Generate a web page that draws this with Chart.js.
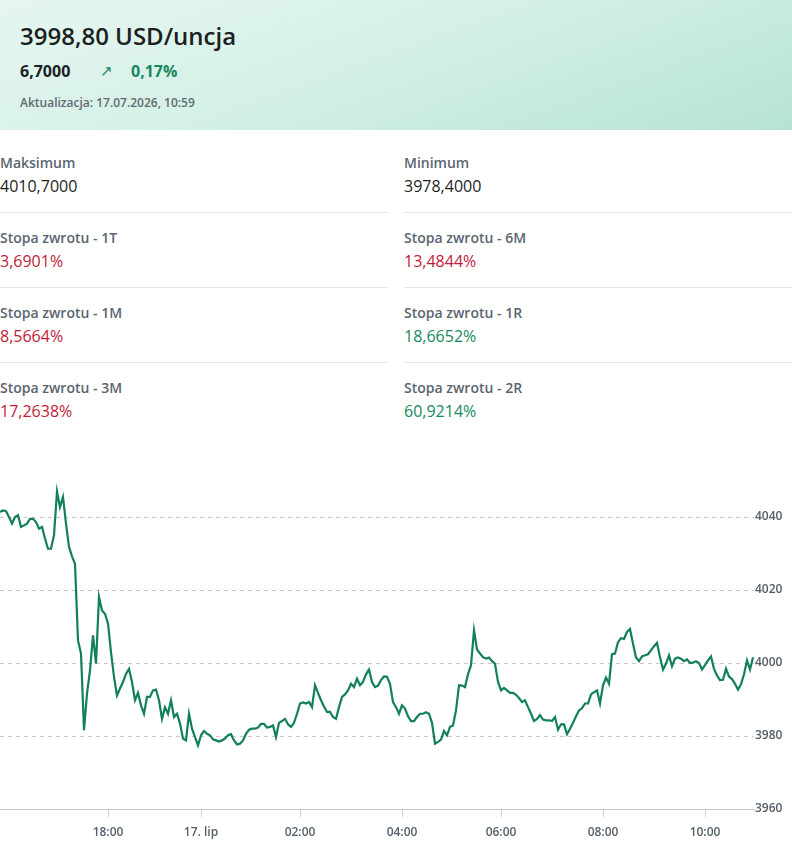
<!DOCTYPE html>
<html lang="pl">
<head>
<meta charset="utf-8">
<title>Złoto USD/uncja</title>
<script src="https://cdn.jsdelivr.net/npm/chart.js@4.4.1/dist/chart.umd.min.js"></script>
<style>
  html, body { margin: 0; padding: 0; background: #fff; }
  body { width: 792px; height: 865px; position: relative; overflow: hidden; font-family: 'Open Sans', sans-serif; }
  .head { position: absolute; left: 0; top: 0; width: 792px; height: 130px;
          background: linear-gradient(160deg, #e6f6f1 0%, #d3f0e5 50%, #b6e3d1 100%); }
  .abs { position: absolute; line-height: 1; white-space: nowrap; }
  .title { left: 20px; top: 24px; font-size: 24px; font-weight: 600; color: #1b1f22; }
  .chg { left: 20px; top: 63px; font-size: 16px; font-weight: 700; color: #1b1f22; }
  .arrow { left: 100px; top: 63px; font-size: 15px; color: #168a5c; }
  .pct { left: 131px; top: 63px; font-size: 16px; font-weight: 700; color: #168a5c; }
  .upd { left: 20px; top: 96.5px; font-size: 12px; font-weight: 600; color: #5f6a72; }
  .lbl { font-size: 14px; font-weight: 600; color: #5a6570; }
  .val { font-size: 16px; font-weight: 500; color: #1b1f22; }
  .red { color: #c21b3a; }
  .green { color: #168a5c; }
  .sep { position: absolute; height: 1px; background: #e4e6e8; }
  .chartbox { position: absolute; left: 0; top: 470px; width: 792px; height: 395px; }
</style>
</head>
<body>
<div class="head">
  <div class="abs title">3998,80 USD/uncja</div>
  <div class="abs chg">6,7000</div>
  <div class="abs arrow">↗</div>
  <div class="abs pct">0,17%</div>
  <div class="abs upd">Aktualizacja: 17.07.2026, 10:59</div>
</div>
<div id="stats"></div>
<div class="chartbox"><canvas id="goldChart"></canvas></div>
<script>
// statystyki
const statLabels = ['Maksimum', 'Minimum', 'Stopa zwrotu - 1T', 'Stopa zwrotu - 6M',
                    'Stopa zwrotu - 1M', 'Stopa zwrotu - 1R', 'Stopa zwrotu - 3M', 'Stopa zwrotu - 2R'];
const statValues = ['4010,7000', '3978,4000', '3,6901%', '13,4844%',
                    '8,5664%', '18,6652%', '17,2638%', '60,9214%'];
const statColors = ['', '', 'red', 'red', 'red', 'green', 'red', 'green'];

// notowania (co ok. 5 min)
const prices = [
  4041.4, 4041.8, 4041.6, 4040.0, 4038.2, 4040.0, 4040.5, 4037.3, 4037.7, 4038.2,
  4039.5, 4039.5, 4038.6, 4036.8, 4037.3, 4034.1, 4031.3, 4031.3, 4035.0, 4047.0,
  4042.7, 4045.5, 4038.2, 4031.8, 4029.2, 4027.2, 4006.2, 4002.6, 3981.6, 3991.6,
  3998.0, 4007.6, 3999.8, 4018.1, 4014.4, 4013.5, 4010.8, 4003.0, 3996.2, 3991.1,
  3993.0, 3994.8, 3997.0, 3998.4, 3994.8, 3989.8, 3991.8, 3988.4, 3986.1, 3990.7,
  3990.7, 3992.5, 3992.7, 3989.8, 3984.7, 3987.9, 3986.1, 3989.8, 3985.2, 3986.1,
  3983.4, 3979.3, 3978.8, 3986.1, 3982.0, 3979.7, 3977.4, 3980.2, 3981.4, 3980.6,
  3980.2, 3979.1, 3978.8, 3978.5, 3978.8, 3979.3, 3980.2, 3980.5, 3978.8, 3977.7,
  3977.9, 3978.8, 3980.6, 3981.7, 3982.0, 3982.0, 3982.3, 3983.3, 3983.3, 3982.3,
  3982.5, 3982.9, 3979.7, 3983.6, 3984.1, 3984.7, 3983.2, 3982.5, 3983.6, 3986.1,
  3988.9, 3989.2, 3988.9, 3989.3, 3987.9, 3993.9, 3991.8, 3989.8, 3988.1, 3986.6,
  3986.6, 3985.2, 3984.7, 3987.9, 3990.7, 3991.4, 3992.5, 3994.3, 3993.4, 3995.7,
  3993.9, 3994.8, 3996.9, 3998.2, 3994.8, 3993.4, 3993.8, 3995.3, 3996.3, 3996.2,
  3994.3, 3989.3, 3987.9, 3986.1, 3988.4, 3987.5, 3985.4, 3984.1, 3984.1, 3985.2,
  3986.1, 3986.1, 3986.5, 3986.1, 3983.6, 3977.9, 3978.4, 3979.0, 3981.4, 3980.2,
  3982.5, 3982.9, 3987.0, 3993.9, 3993.8, 3993.4, 3996.9, 3999.4, 4009.0, 4003.7,
  4002.6, 4001.6, 4001.2, 4001.5, 4000.5, 3999.8, 3994.8, 3992.5, 3993.2, 3992.5,
  3991.8, 3991.8, 3991.3, 3990.4, 3989.3, 3989.8, 3987.9, 3986.1, 3984.1, 3984.7,
  3985.7, 3984.5, 3984.3, 3984.3, 3984.1, 3985.2, 3981.7, 3983.2, 3983.2, 3980.5,
  3982.0, 3983.6, 3985.4, 3987.0, 3987.6, 3988.9, 3988.9, 3991.4, 3992.0, 3992.5,
  3988.9, 3993.9, 3996.0, 3994.3, 4002.4, 4002.6, 4005.7, 4006.8, 4006.6, 4008.5,
  4009.3, 4005.3, 4001.5, 4000.5, 4001.8, 4002.1, 4002.4, 4003.5, 4004.6, 4005.5,
  4001.6, 3998.2, 3999.8, 4002.1, 3999.1, 4001.2, 4001.5, 4001.2, 4000.5, 4001.0,
  4000.0, 4000.1, 4000.5, 4000.0, 3998.2, 3999.4, 4000.7, 4001.8, 3998.4, 3996.6,
  3995.3, 3995.4, 3998.4, 3996.3, 3995.6, 3994.3, 3992.7, 3994.2, 3996.9, 4000.7,
  3998.2, 4001.6
];

// indeks notowania, przy którym pada etykieta czasu
const tickIndex = [36, 67, 100, 134, 167, 201, 235];
const tickLabels = ['18:00', '17. lip', '02:00', '04:00', '06:00', '08:00', '10:00'];
const yTicks = [3960, 3980, 4000, 4020, 4040];

// budowa siatki statystyk
const stats = document.getElementById('stats');
statLabels.forEach((lab, i) => {
  const col = i % 2, row = Math.floor(i / 2);
  const left = col === 0 ? 0 : 404;
  const l = document.createElement('div');
  l.className = 'abs lbl';
  l.style.left = left + 'px';
  l.style.top = (156 + row * 75) + 'px';
  l.textContent = lab;
  stats.appendChild(l);
  const v = document.createElement('div');
  v.className = 'abs val ' + statColors[i];
  v.style.left = left + 'px';
  v.style.top = (177.5 + row * 75) + 'px';
  v.textContent = statValues[i];
  stats.appendChild(v);
  if (row < 3) {
    const s = document.createElement('div');
    s.className = 'sep';
    s.style.left = left + 'px';
    s.style.width = '388px';
    s.style.top = (211.5 + row * 75) + 'px';
    stats.appendChild(s);
  }
});

Chart.defaults.font.family = "'Open Sans', sans-serif";

const ctx = document.getElementById('goldChart').getContext('2d');
const goldChart = new Chart(ctx, {
  type: 'line',
  data: {
    datasets: [{
      data: prices.map((p, i) => ({ x: i, y: p })),
      borderColor: '#12805a',
      borderWidth: 2.2,
      pointRadius: 0,
      fill: false,
      tension: 0
    }]
  },
  options: {
    responsive: true,
    maintainAspectRatio: false,
    animation: false,
    layout: { padding: { top: 10.5, left: 0, right: 0, bottom: 0 } },
    plugins: { legend: { display: false }, tooltip: { enabled: false } },
    scales: {
      x: {
        type: 'linear',
        min: 0,
        max: prices.length - 0.67,
        afterBuildTicks: (scale) => { scale.ticks = tickIndex.map(v => ({ value: v })); },
        afterFit: (scale) => { scale.height = 56; },
        ticks: {
          autoSkip: false,
          maxRotation: 0,
          padding: 8,
          color: '#56616b',
          font: { size: 12, weight: 600 },
          callback: (v) => tickLabels[tickIndex.indexOf(v)]
        },
        grid: { drawOnChartArea: false, drawTicks: true, tickLength: 8, tickColor: '#ccd0d4' },
        border: { display: true, color: '#c4c8cc', width: 1 }
      },
      y: {
        position: 'right',
        min: 3960,
        max: 4050,
        afterBuildTicks: (scale) => { scale.ticks = yTicks.map(v => ({ value: v })); },
        afterFit: (scale) => { scale.width = 38; },
        ticks: {
          padding: 1,
          color: '#535e69',
          font: { size: 12, weight: 600 },
          callback: (v) => String(v)
        },
        grid: {
          drawTicks: false,
          color: (c) => c.tick && c.tick.value === 3960 ? 'rgba(0,0,0,0)' : '#c8c8c8'
        },
        border: { display: false, dash: [4, 4] }
      }
    }
  }
});
</script>
</body>
</html>
